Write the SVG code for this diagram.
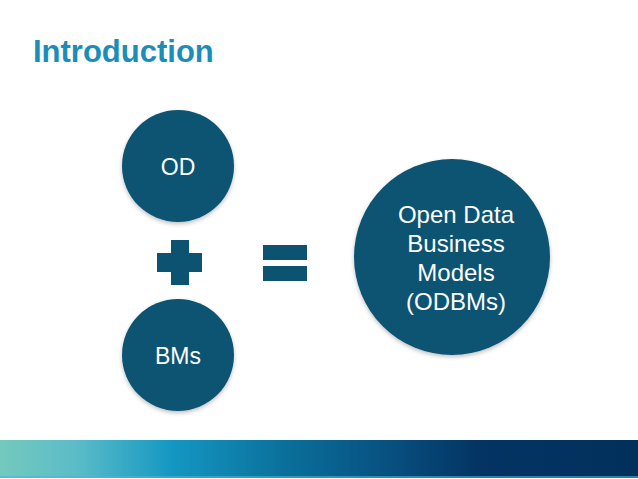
<svg xmlns="http://www.w3.org/2000/svg" width="638" height="479" viewBox="0 0 638 479">
<defs>
<linearGradient id="band" x1="0" y1="0" x2="1" y2="0">
<stop offset="0" stop-color="#74c9bd"/>
<stop offset="0.12" stop-color="#5bbcc8"/>
<stop offset="0.27" stop-color="#1497c2"/>
<stop offset="0.45" stop-color="#0a6f9a"/>
<stop offset="0.62" stop-color="#074e7e"/>
<stop offset="0.75" stop-color="#033463"/>
<stop offset="1" stop-color="#02305c"/>
</linearGradient>
<filter id="sh" x="-20%" y="-20%" width="140%" height="140%">
<feGaussianBlur in="SourceAlpha" stdDeviation="2"/>
<feOffset dx="0" dy="2" result="b"/>
<feComponentTransfer><feFuncA type="linear" slope="0.25"/></feComponentTransfer>
<feMerge><feMergeNode/><feMergeNode in="SourceGraphic"/></feMerge>
</filter>
</defs>
<style>
.c{fill:#0c5372;filter:url(#sh)}
.t{font-family:"Liberation Sans",Arial,sans-serif;fill:#ffffff;text-anchor:middle}
.op{fill:#0c5372}
</style>
<rect width="638" height="479" fill="#ffffff"/>
<text x="33" y="62" font-family="Liberation Sans,Arial,sans-serif" font-weight="bold" font-size="31" fill="#1a8db8">Introduction</text>
<g id="od">
<circle class="c" cx="178" cy="166" r="56"/>
<text class="t" x="178" y="175" font-size="23">OD</text>
</g>
<g id="bms">
<circle class="c" cx="178" cy="355" r="56"/>
<text class="t" x="178" y="364" font-size="23">BMs</text>
</g>
<g id="plus">
<rect class="op" x="171" y="240" width="18" height="45"/>
<rect class="op" x="157" y="253" width="45" height="19"/>
</g>
<g id="equals">
<rect class="op" x="263" y="245" width="44" height="15"/>
<rect class="op" x="263" y="266" width="44" height="15"/>
</g>
<g id="odbms">
<circle class="c" cx="452" cy="257" r="98"/>
<text class="t" font-size="24"><tspan x="456" y="223">Open Data</tspan><tspan x="456" y="252">Business</tspan><tspan x="456" y="281">Models</tspan><tspan x="456" y="310">(ODBMs)</tspan></text>
</g>
<g id="connectors"/>
<rect x="0" y="440" width="638" height="38" fill="url(#band)"/>
<rect x="0" y="476" width="638" height="2" fill="#4fb3d9" opacity="0.6"/>
</svg>
